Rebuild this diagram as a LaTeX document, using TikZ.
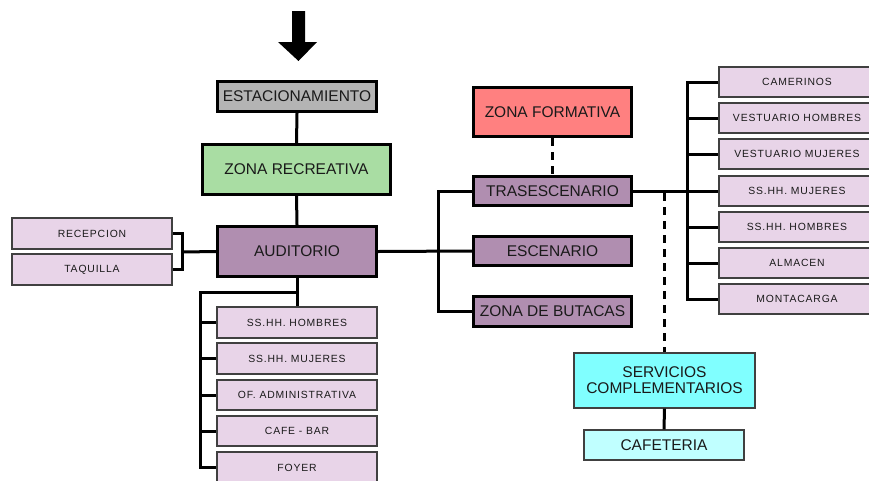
\documentclass[tikz,border=0pt]{standalone}
\usepackage{fontspec}
\setmainfont{Liberation Sans}
\newfontfamily\smallsp[LetterSpace=8]{Liberation Sans}
\definecolor{txt}{HTML}{1A1A1A}
\definecolor{cgray}{HTML}{B4B4B4}
\definecolor{cgreen}{HTML}{A9DDA3}
\definecolor{cmauve}{HTML}{B08EB0}
\definecolor{clight}{HTML}{E8D4E8}
\definecolor{cred}{HTML}{FF8080}
\definecolor{ccyan}{HTML}{80FFFF}
\definecolor{clcyan}{HTML}{C0FFFF}
\definecolor{cedge}{HTML}{404040}
\tikzset{
  bigbox/.style={draw=black, line width=3pt, text=txt, inner sep=0pt,
    font=\fontsize{15.5}{17}\selectfont},
  smallbox/.style={draw=cedge, line width=1.2pt, fill=clight, text=txt, inner sep=0pt,
    font=\fontsize{10.4}{12}\smallsp},
  cyanbox/.style={draw=cedge, line width=1.2pt, text=txt, inner sep=0pt, align=center,
    font=\fontsize{15.5}{17}\selectfont},
  conn/.style={line width=3pt, draw=black},
  dconn/.style={line width=3pt, draw=black, dash pattern=on 8pt off 6pt},
}
\begin{document}
\begin{tikzpicture}[x=1pt,y=-1pt]
\useasboundingbox (0,0) rectangle (869,480);
% arrow
\fill[black] (292,11) -- (305,11) -- (305,42) -- (317,42) -- (298.5,61) -- (278,42) -- (292,42) -- cycle;
% main column
\node[bigbox, fill=cgray, minimum width=159pt, minimum height=30pt] (est) at (297,96.5) {ESTACIONAMIENTO};
\node[bigbox, fill=cgreen, minimum width=188pt, minimum height=50pt] (rec) at (296.5,169.5) {ZONA RECREATIVA};
\node[bigbox, fill=cmauve, minimum width=159pt, minimum height=50pt] (aud) at (297,251.5) {AUDITORIO};
% left boxes
\node[smallbox, minimum width=160pt, minimum height=31pt] (recep) at (92,233.5) {RECEPCION};
\node[smallbox, minimum width=160pt, minimum height=31pt] (taq) at (92,269.5) {TAQUILLA};
% lower boxes
\node[smallbox, minimum width=160pt, minimum height=31pt] (b1) at (297,322.5) {SS.HH. HOMBRES};
\node[smallbox, minimum width=160pt, minimum height=31pt] (b2) at (297,358.5) {SS.HH. MUJERES};
\node[smallbox, minimum width=160pt, minimum height=30pt] (b3) at (297,395) {OF. ADMINISTRATIVA};
\node[smallbox, minimum width=160pt, minimum height=30pt] (b4) at (297,431) {CAFE - BAR};
\node[smallbox, minimum width=160pt, minimum height=31pt] (b5) at (297,467.5) {FOYER};
% middle column
\node[bigbox, fill=cred, minimum width=158pt, minimum height=49pt] (form) at (552.5,112) {ZONA FORMATIVA};
\node[bigbox, fill=cmauve, minimum width=158pt, minimum height=29pt] (tras) at (552.5,191) {TRASESCENARIO};
\node[bigbox, fill=cmauve, minimum width=158pt, minimum height=29pt] (esc) at (552.5,251) {ESCENARIO};
\node[bigbox, fill=cmauve, minimum width=158pt, minimum height=30pt] (but) at (552.5,311.5) {ZONA DE BUTACAS};
% right boxes
\node[smallbox, minimum width=156pt, minimum height=30pt] (r1) at (797,82) {CAMERINOS};
\node[smallbox, minimum width=156pt, minimum height=30pt] (r2) at (797,118) {VESTUARIO HOMBRES};
\node[smallbox, minimum width=156pt, minimum height=30pt] (r3) at (797,154) {VESTUARIO MUJERES};
\node[smallbox, minimum width=156pt, minimum height=30pt] (r4) at (797,191) {SS.HH. MUJERES};
\node[smallbox, minimum width=156pt, minimum height=30pt] (r5) at (797,227) {SS.HH. HOMBRES};
\node[smallbox, minimum width=156pt, minimum height=30pt] (r6) at (797,263) {ALMACEN};
\node[smallbox, minimum width=156pt, minimum height=30pt] (r7) at (797,299) {MONTACARGA};
% services
\node[cyanbox, fill=ccyan, minimum width=181pt, minimum height=55pt] (serv) at (664.5,380.5) {SERVICIOS\\[-1pt]COMPLEMENTARIOS};
\node[cyanbox, fill=clcyan, minimum width=160pt, minimum height=30pt] (caf) at (664,445) {CAFETERIA};
% coordinates
\coordinate (bk) at (182,252);
\coordinate (lb) at (200,292);
\coordinate (rx) at (438,252);
\coordinate (rv) at (687,191);
% connectors
\draw[conn] (est.south) -- (rec.north);
\draw[conn] (rec.south) -- (aud.north);
\draw[conn] (recep.east) -| (bk) |- (taq.east);
\draw[conn] (aud.west) -- (bk);
\draw[conn] (aud.south) -- (b1.north);
\draw[conn] (aud.south |- lb) -- (lb) |- (b5.west);
\draw[conn] (lb |- b1.west) -- (b1.west);
\draw[conn] (lb |- b2.west) -- (b2.west);
\draw[conn] (lb |- b3.west) -- (b3.west);
\draw[conn] (lb |- b4.west) -- (b4.west);
\draw[conn] (aud.east) -- (esc.west);
\draw[conn] (tras.west) -| (rx) |- (but.west);
\draw[dconn] (form.south) -- (tras.north);
\draw[conn] (tras.east) -- (rv);
\draw[conn] (r1.west) -| (rv) |- (r7.west);
\draw[conn] (rv |- r2.west) -- (r2.west);
\draw[conn] (rv |- r3.west) -- (r3.west);
\draw[conn] (rv) -- (r4.west);
\draw[conn] (rv |- r5.west) -- (r5.west);
\draw[conn] (rv |- r6.west) -- (r6.west);
\draw[dconn] (serv.north |- tras.east) ++(0,2) -- (serv.north);
\draw[conn] (serv.south) -- (caf.north);
\end{tikzpicture}
\end{document}
